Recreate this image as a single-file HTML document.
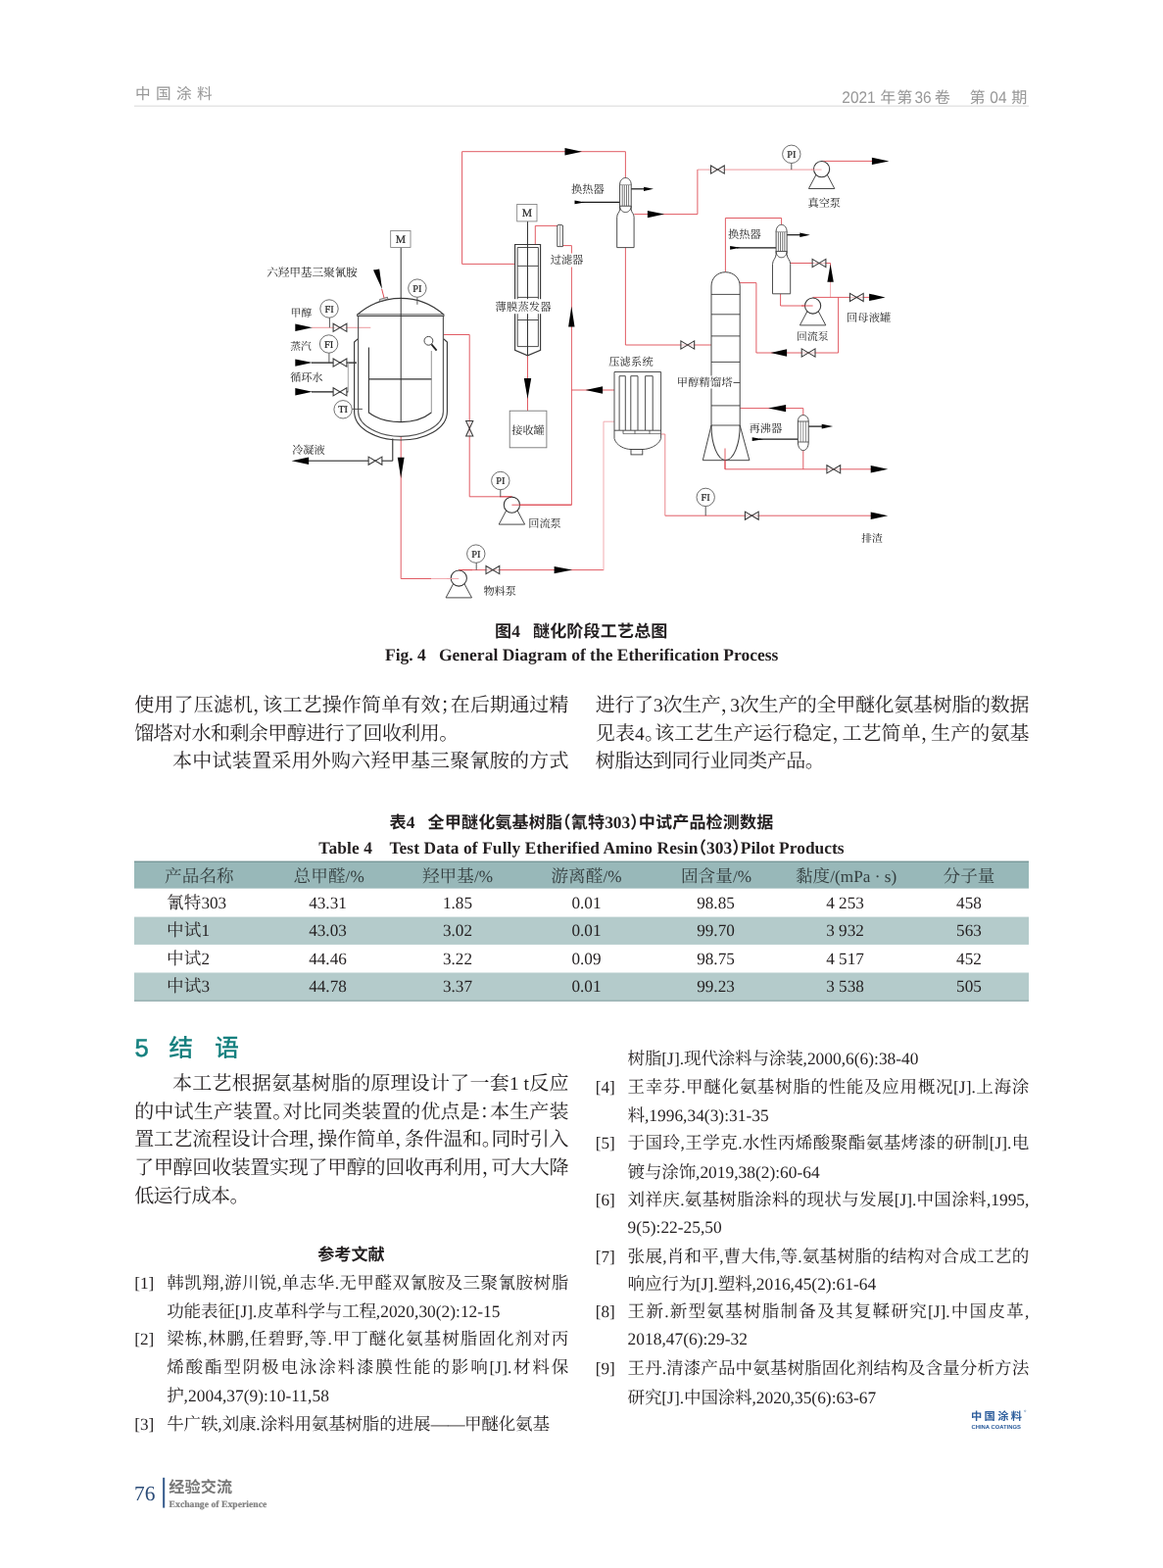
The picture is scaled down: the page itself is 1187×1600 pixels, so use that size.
<!DOCTYPE html>
<html lang="zh-CN"><head><meta charset="utf-8"><title>中国涂料 2021年第36卷 第04期 - 76</title>
<style>html,body{margin:0;padding:0;background:#fff}svg{display:block;will-change:transform}text{font-family:"Liberation Serif","Noto Serif CJK SC",serif;white-space:pre;text-rendering:geometricPrecision}text.sa{font-family:"Liberation Sans","Noto Sans CJK SC",sans-serif}</style></head>
<body>
<svg width="1187" height="1600" viewBox="0 0 1187 1600">
<g transform="translate(138,101.2) scale(0.0308)" fill="#979797"><text class="sa" font-size="500" x="0 682 1364 2045">中国涂料</text></g><rect x="137" y="107.7" width="913" height="0.9" fill="#d4d4d4"/><text transform="translate(859.3,105.2) scale(0.92,1)" font-size="16.8" class="sa" fill="#979797" textLength="37.37">2021</text><g transform="translate(898.2,105.2) scale(0.0326)" fill="#979797"><text class="sa" font-size="500" x="0 525">年第</text></g><text transform="translate(933.4,105.2) scale(0.92,1)" font-size="16.8" class="sa" fill="#979797" textLength="18.69">36</text><g transform="translate(953.8,105.2) scale(0.0326)" fill="#979797"><text class="sa" font-size="500" x="0">卷</text></g><g transform="translate(989.4,105.2) scale(0.0326)" fill="#979797"><text class="sa" font-size="500" x="0">第</text></g><text transform="translate(1010.3,105.2) scale(0.92,1)" font-size="16.8" class="sa" fill="#979797" textLength="18.69">04</text><g transform="translate(1032.2,105.2) scale(0.0326)" fill="#979797"><text class="sa" font-size="500" x="0">期</text></g><g fill="none" stroke-linecap="butt" stroke-linejoin="miter"><polyline points="525.6,269.4 471.6,269.4 471.6,154.7 638.4,154.7 638.4,182" stroke="#de4a52" stroke-width="0.9" /><polyline points="546.3,249.5 546.3,230.4 569,230.4" stroke="#de4a52" stroke-width="0.9" /><polyline points="574.3,250.6 583.4,250.6 583.4,515.2 522.4,515.2" stroke="#de4a52" stroke-width="0.9" /><polyline points="538.5,362.6 538.5,419.2" stroke="#de4a52" stroke-width="0.9" /><polyline points="318,334.3 378.3,334.3" stroke="#ea8d93" stroke-width="0.9" /><polyline points="452.4,341.5 479.2,341.5 479.2,506.8 522.4,506.8" stroke="#de4a52" stroke-width="0.9" /><polyline points="409.2,445 409.2,590.5 440,590.5" stroke="#de4a52" stroke-width="0.9" /><polyline points="440,590.5 468.3,590.5" stroke="#f0a2a8" stroke-width="0.9" /><polyline points="468.3,581.6 616,581.6" stroke="#de4a52" stroke-width="0.9" /><polyline points="616,582.2 616,430.2 627,430.2" stroke="#f0a2a8" stroke-width="0.9" /><polyline points="627,398 583.3,398" stroke="#de4a52" stroke-width="0.9" /><polyline points="674.6,443 678.8,443 678.8,526.2" stroke="#e8797f" stroke-width="0.9" /><polyline points="678.8,526.2 890,526.2" stroke="#de4a52" stroke-width="0.9" /><polyline points="647.3,218.6 711.9,218.6 711.9,173.1" stroke="#de4a52" stroke-width="0.9" /><polyline points="711.9,173.6 711.9,173.1 838.6,173.1" stroke="#ea8d93" stroke-width="0.9" /><polyline points="838.6,164.4 890,164.4" stroke="#de4a52" stroke-width="0.9" /><polyline points="638.4,252.2 638.4,352 726,352" stroke="#de4a52" stroke-width="0.9" /><polyline points="740.4,277.8 740.4,222.5 797.6,222.5 797.6,230" stroke="#de4a52" stroke-width="0.9" /><polyline points="806.6,268.5 847.6,268.5 847.6,288" stroke="#de4a52" stroke-width="0.9" /><polyline points="847.6,288 847.6,303.4" stroke="#f0a2a8" stroke-width="0.9" /><polyline points="796.6,299.8 796.6,312 829.6,312" stroke="#de4a52" stroke-width="0.9" /><polyline points="829.6,303.4 888,303.4" stroke="#de4a52" stroke-width="0.9" /><polyline points="855.6,303.4 855.6,360 771.9,360 771.9,288.6 754.8,288.6" stroke="#de4a52" stroke-width="0.9" /><polyline points="755.2,416.6 819.8,416.6 819.8,424" stroke="#de4a52" stroke-width="0.9" /><polyline points="740,457.5 740,478.8 890,478.8" stroke="#de4a52" stroke-width="0.9" /><polyline points="819.8,459.8 819.8,478.8" stroke="#de4a52" stroke-width="0.9" /><polyline points="318,370.1 364,370.1" stroke="#1a1a1a" stroke-width="1.25" /><polyline points="318,399.8 355.3,399.8" stroke="#1a1a1a" stroke-width="1.25" /><polyline points="355.3,399.8 355.3,370.1" stroke="#999" stroke-width="0.9" /><polyline points="400.8,447.5 400.8,470.2 314,470.2" stroke="#1a1a1a" stroke-width="1" /><polyline points="643.8,192.8 660,192.8" stroke="#1a1a1a" stroke-width="1.25" /><polyline points="633.2,206.4 594,206.4" stroke="#1a1a1a" stroke-width="1.25" /><polyline points="803,239.7 820,239.7" stroke="#1a1a1a" stroke-width="1.25" /><polyline points="792.2,252.8 752,252.8" stroke="#1a1a1a" stroke-width="1.25" /><polyline points="825.2,435.1 842,435.1" stroke="#1a1a1a" stroke-width="1.25" /><polyline points="814.4,448.2 775,448.2" stroke="#1a1a1a" stroke-width="1.25" /><path d="M365.6,345.5 L361.6,349 L361.6,420 C361.6,438 385,449 409.2,449 C433,449 456.4,438 456.4,420 L456.4,349 L452.4,345.5" stroke="#3a3a3a" stroke-width="1.15"/><path d="M365.6,322.3 L365.6,420 C365.6,435 388,445.3 409.2,445.3 C430,445.3 452.4,435 452.4,420 L452.4,322.3" stroke="#555" stroke-width="1.15"/><path d="M364.8,321 C378,309.5 394,304.3 409.2,304.3 C424,304.3 440,309.5 452.8,321" stroke="#3a3a3a" stroke-width="1.15"/><rect x="364.6" y="320.9" width="88.4" height="1.6" stroke="#3a3a3a" stroke-width="0.9" fill="#fff"/><polyline points="409.2,252.4 409.2,430.4" stroke="#333" stroke-width="1" /><path d="M376.4,354.4 L376.4,421 C385,427.5 398,430.6 409.2,430.6 C420,430.6 432,427.5 440.3,421" stroke="#333" stroke-width="1.1"/><polyline points="440.3,421 440.3,358" stroke="#888" stroke-width="0.9" /><polyline points="376.4,386.8 440.3,386.8" stroke="#333" stroke-width="1.2" /><circle cx="437.4" cy="347.8" r="4.4" stroke="#333" stroke-width="0.9" fill="#fff"/><line x1="440.4" y1="351.4" x2="445.6" y2="357.6" stroke="#222" stroke-width="1.8"/><polygon points="387.4,305.6 395.4,303.2 396,305 388,307.6" fill="#ddd" stroke="#444" stroke-width="0.7"/><polyline points="389.7,295 392.1,304.3" stroke="#de4a52" stroke-width="1" /><polygon points="381,275.6 387.2,274.4 390,295.2" fill="#000" stroke="none"/><rect x="398.7" y="235.5" width="20.3" height="16.9" fill="#fff" stroke="#777" stroke-width="0.8"/><text x="408.85" y="247.95" font-size="11.6" text-anchor="middle" fill="#222" stroke="#222" stroke-width="0.2">M</text><path d="M525.6,249.5 L551.6,249.5 L551.6,357.3 L538.5,362.8 L525.6,357.3 Z" stroke="#3a3a3a" stroke-width="1.15" fill="#fff"/><path d="M528.2,252.5 H549.4 V353.6 H528.2 Z M528.2,271.4 H549.4 M528.2,303.4 H549.4 M528.2,326.5 H549.4" stroke="#3a3a3a" stroke-width="0.9"/><polyline points="538.5,225.9 538.5,362.4" stroke="#333" stroke-width="1" /><rect x="527.7" y="208.4" width="20.3" height="17.5" fill="#fff" stroke="#777" stroke-width="0.8"/><text x="537.85" y="221.15" font-size="11.6" text-anchor="middle" fill="#222" stroke="#222" stroke-width="0.2">M</text><path d="M568.8,230 L571,229.2 L574.4,230 L574.4,251.6 L568.8,251.6 Z" stroke="#3a3a3a" stroke-width="0.9" fill="#fff"/><polyline points="571.6,229.6 571.6,251.4" stroke="#777" stroke-width="0.7" /><rect x="520.2" y="419.2" width="37.7" height="37.6" stroke="#777" stroke-width="0.9" fill="#fff"/><path d="M627,379.5 H674.6 V447.5 C672,455 662,458.5 655.8,458.5 H644 C638,458.5 629,455 627,447.5 Z" stroke="#3a3a3a" stroke-width="0.9" fill="#fff"/><path d="M632.1,439 V383.7 H638.3 V439" stroke="#3a3a3a" stroke-width="0.9"/><path d="M643.8,439 V383.7 H651 V439" stroke="#3a3a3a" stroke-width="0.9"/><path d="M658.6,439 V383.7 H666.2 V439" stroke="#3a3a3a" stroke-width="0.9"/><polyline points="627,439.2 674.6,439.2" stroke="#3a3a3a" stroke-width="0.9" /><polyline points="636,442.6 674.6,442.6" stroke="#666" stroke-width="0.8" /><polyline points="636,439.2 636,442.6" stroke="#3a3a3a" stroke-width="0.8" /><polyline points="648,439.2 648,442.6" stroke="#3a3a3a" stroke-width="0.8" /><polyline points="663,439.2 663,442.6" stroke="#3a3a3a" stroke-width="0.8" /><rect x="644" y="458.5" width="11.8" height="5.4" stroke="#3a3a3a" stroke-width="0.9" fill="#fff"/><path d="M632.6,210.2 L632.6,213.2 C632.6,217.2 629.7,217.5 629.7,221.5 L629.7,252.6 L647.1,252.6 L647.1,221.5 C647.1,217.5 644.2,217.2 644.2,213.2 L644.2,210.2" fill="#fff" stroke="#3a3a3a" stroke-width="0.9"/><path d="M632.6,210.2 C632.6,218.7 644.2,218.7 644.2,210.2" fill="none" stroke="#3a3a3a" stroke-width="0.9"/><rect x="632.6" y="188.6" width="11.6" height="21.6" fill="#fff" stroke="#3a3a3a" stroke-width="0.9"/><line x1="635.2" y1="188.6" x2="635.2" y2="210.2" stroke="#555" stroke-width="0.8"/><line x1="637.3" y1="188.6" x2="637.3" y2="210.2" stroke="#555" stroke-width="0.8"/><line x1="639.5" y1="188.6" x2="639.5" y2="210.2" stroke="#555" stroke-width="0.8"/><line x1="641.6" y1="188.6" x2="641.6" y2="210.2" stroke="#555" stroke-width="0.8"/><path d="M632.6,188.6 C632.6,179.1 644.2,179.1 644.2,188.6" fill="#fff" stroke="#3a3a3a" stroke-width="0.9"/><path d="M792.1,256.4 L792.1,259.4 C792.1,263.4 788.5,265.5 788.5,269.5 L788.5,299.8 L806.7,299.8 L806.7,269.5 C806.7,265.5 803.1,263.4 803.1,259.4 L803.1,256.4" fill="#fff" stroke="#3a3a3a" stroke-width="0.9"/><path d="M792.1,256.4 C792.1,264.9 803.1,264.9 803.1,256.4" fill="none" stroke="#3a3a3a" stroke-width="0.9"/><rect x="792.1" y="236.6" width="11" height="19.8" fill="#fff" stroke="#3a3a3a" stroke-width="0.9"/><line x1="794.4" y1="236.6" x2="794.4" y2="256.4" stroke="#555" stroke-width="0.8"/><line x1="796.5" y1="236.6" x2="796.5" y2="256.4" stroke="#555" stroke-width="0.8"/><line x1="798.7" y1="236.6" x2="798.7" y2="256.4" stroke="#555" stroke-width="0.8"/><line x1="800.8" y1="236.6" x2="800.8" y2="256.4" stroke="#555" stroke-width="0.8"/><path d="M792.1,236.6 C792.1,226.9 803.1,226.9 803.1,236.6" fill="#fff" stroke="#3a3a3a" stroke-width="0.9"/><path d="M717.3,469.7 L726,434 L726,292 C726,284 732,277.7 740.4,277.7 C749,277.7 755.2,284 755.2,292 L755.2,434 L764.9,469.7 Z" stroke="#444" stroke-width="1.0" fill="#fff"/><path d="M726,434 A14.6,35.5 0 0 0 755.2,434" stroke="#3a3a3a" stroke-width="1.05"/><polyline points="726,300.4 755.2,300.4" stroke="#3a3a3a" stroke-width="0.9" /><polyline points="726,320.8 755.2,320.8" stroke="#3a3a3a" stroke-width="0.9" /><polyline points="726,342.9 755.2,342.9" stroke="#3a3a3a" stroke-width="0.9" /><polyline points="726,369.4 755.2,369.4" stroke="#3a3a3a" stroke-width="0.9" /><polyline points="726,390.5 755.2,390.5" stroke="#3a3a3a" stroke-width="0.9" /><polyline points="726,413.9 755.2,413.9" stroke="#3a3a3a" stroke-width="0.9" /><polyline points="726,434 755.2,434" stroke="#3a3a3a" stroke-width="0.9" /><path d="M814.4,430 C814.4,421.5 825.2,421.5 825.2,430 L825.2,451 C825.2,462.5 814.4,462.5 814.4,451 Z" stroke="#3a3a3a" stroke-width="0.9" fill="#fff"/><polyline points="814.4,430 825.2,430" stroke="#3a3a3a" stroke-width="0.8" /><polyline points="814.4,451 825.2,451" stroke="#3a3a3a" stroke-width="0.8" /><polyline points="817.1,430 817.1,451" stroke="#666" stroke-width="0.7" /><polyline points="819.8,430 819.8,451" stroke="#666" stroke-width="0.7" /><polyline points="822.5,430 822.5,451" stroke="#666" stroke-width="0.7" /><polyline points="740,457.5 740,478.8" stroke="#de4a52" stroke-width="0.9" /><polygon points="522.4,510.2 509.2,535.1 535.6,535.1" fill="#fff" stroke="#333" stroke-width="0.9"/><circle cx="522.4" cy="515.2" r="8.1" fill="#fff" stroke="#333" stroke-width="1.05"/><polyline points="522.4,515.2 583.4,515.2" stroke="#de4a52" stroke-width="0.9" /><polyline points="510,506.8 522.4,506.8" stroke="#de4a52" stroke-width="0.9" /><polygon points="468.3,585 455.1,609.9 481.5,609.9" fill="#fff" stroke="#333" stroke-width="0.9"/><circle cx="468.3" cy="590" r="8.1" fill="#fff" stroke="#333" stroke-width="1.05"/><polyline points="456,590.5 468.3,590.5" stroke="#f0a2a8" stroke-width="0.9" /><polygon points="838.6,167.6 825.4,192.5 851.8,192.5" fill="#fff" stroke="#333" stroke-width="0.9"/><circle cx="838.6" cy="172.6" r="8.1" fill="#fff" stroke="#333" stroke-width="1.05"/><polyline points="828,173.1 838.6,173.1" stroke="#f0a2a8" stroke-width="0.9" /><polygon points="829.6,307 816.4,331.9 842.8,331.9" fill="#fff" stroke="#333" stroke-width="0.9"/><circle cx="829.6" cy="312" r="8.1" fill="#fff" stroke="#333" stroke-width="1.05"/><polyline points="818,312 829.6,312" stroke="#de4a52" stroke-width="0.9" /><polyline points="468.3,581.6 482,581.6" stroke="#de4a52" stroke-width="0.9" /><polygon points="340.1,366 340.1,374.2 353.9,366 353.9,374.2" fill="#fff" fill-opacity="1" stroke="#383838" stroke-width="1.05" stroke-linejoin="miter"/><polygon points="340.1,395.7 340.1,403.9 353.9,395.7 353.9,403.9" fill="#fff" fill-opacity="1" stroke="#383838" stroke-width="1.05" stroke-linejoin="miter"/><polygon points="376.1,466.1 376.1,474.3 389.9,466.1 389.9,474.3" fill="#fff" fill-opacity="1" stroke="#383838" stroke-width="1.05" stroke-linejoin="miter"/><polygon points="340.1,330.2 340.1,338.4 353.9,330.2 353.9,338.4" fill="#fff" fill-opacity="0.62" stroke="#383838" stroke-width="1.05" stroke-linejoin="miter"/><polygon points="496,577.5 496,585.7 509.8,577.5 509.8,585.7" fill="#fff" fill-opacity="0.62" stroke="#383838" stroke-width="1.05" stroke-linejoin="miter"/><polygon points="725.5,169 725.5,177.2 739.3,169 739.3,177.2" fill="#fff" fill-opacity="0.62" stroke="#383838" stroke-width="1.05" stroke-linejoin="miter"/><polygon points="694.9,347.9 694.9,356.1 708.7,347.9 708.7,356.1" fill="#fff" fill-opacity="0.62" stroke="#383838" stroke-width="1.05" stroke-linejoin="miter"/><polygon points="829.1,264.4 829.1,272.6 842.9,264.4 842.9,272.6" fill="#fff" fill-opacity="0.62" stroke="#383838" stroke-width="1.05" stroke-linejoin="miter"/><polygon points="867.4,299.3 867.4,307.5 881.2,299.3 881.2,307.5" fill="#fff" fill-opacity="0.62" stroke="#383838" stroke-width="1.05" stroke-linejoin="miter"/><polygon points="818.2,355.9 818.2,364.1 832,355.9 832,364.1" fill="#fff" fill-opacity="0.62" stroke="#383838" stroke-width="1.05" stroke-linejoin="miter"/><polygon points="843.9,474.7 843.9,482.9 857.7,474.7 857.7,482.9" fill="#fff" fill-opacity="0.62" stroke="#383838" stroke-width="1.05" stroke-linejoin="miter"/><polygon points="760.4,522.1 760.4,530.3 774.2,522.1 774.2,530.3" fill="#fff" fill-opacity="0.62" stroke="#383838" stroke-width="1.05" stroke-linejoin="miter"/><polygon points="475.6,429.4 482.8,429.4 475.6,445 482.8,445" fill="#fff" fill-opacity="0.62" stroke="#383838" stroke-width="1.05" stroke-linejoin="miter"/><polyline points="425.9,303.4 425.9,310.8" stroke="#444" stroke-width="0.9" /><polyline points="336.4,324 336.4,334.3" stroke="#444" stroke-width="0.9" /><polyline points="335.9,360 335.9,370.1" stroke="#444" stroke-width="0.9" /><polyline points="359.3,417.4 369.9,417.4" stroke="#444" stroke-width="0.9" /><polyline points="510.8,499.5 510.8,506.8" stroke="#444" stroke-width="0.9" /><polyline points="486.2,573.8 486.2,581.6" stroke="#444" stroke-width="0.9" /><polyline points="807.8,166.4 807.8,173.1" stroke="#444" stroke-width="0.9" /><polyline points="720.2,516.5 720.2,526.2" stroke="#444" stroke-width="0.9" /><circle cx="425.9" cy="294.1" r="9.2" fill="#fff" stroke="#4a4a4a" stroke-width="0.8"/><text x="425.9" y="297.6" font-size="10.4" text-anchor="middle" fill="#222" stroke="#222" stroke-width="0.22">PI</text><circle cx="336" cy="315" r="9.2" fill="#fff" stroke="#4a4a4a" stroke-width="0.8"/><text x="336" y="318.5" font-size="10.4" text-anchor="middle" fill="#222" stroke="#222" stroke-width="0.22">FI</text><circle cx="335.6" cy="351" r="9.2" fill="#fff" stroke="#4a4a4a" stroke-width="0.8"/><text x="335.6" y="354.5" font-size="10.4" text-anchor="middle" fill="#222" stroke="#222" stroke-width="0.22">FI</text><circle cx="350.1" cy="417.8" r="9.2" fill="#fff" stroke="#4a4a4a" stroke-width="0.8"/><text x="350.1" y="421.3" font-size="10.4" text-anchor="middle" fill="#222" stroke="#222" stroke-width="0.22">TI</text><circle cx="510.8" cy="490.5" r="9.2" fill="#fff" stroke="#4a4a4a" stroke-width="0.8"/><text x="510.8" y="494" font-size="10.4" text-anchor="middle" fill="#222" stroke="#222" stroke-width="0.22">PI</text><circle cx="485.8" cy="565.1" r="9.2" fill="#fff" stroke="#4a4a4a" stroke-width="0.8"/><text x="485.8" y="568.6" font-size="10.4" text-anchor="middle" fill="#222" stroke="#222" stroke-width="0.22">PI</text><circle cx="807.8" cy="157.3" r="9.2" fill="#fff" stroke="#4a4a4a" stroke-width="0.8"/><text x="807.8" y="160.8" font-size="10.4" text-anchor="middle" fill="#222" stroke="#222" stroke-width="0.22">PI</text><circle cx="720.2" cy="507.4" r="9.2" fill="#fff" stroke="#4a4a4a" stroke-width="0.8"/><text x="720.2" y="510.9" font-size="10.4" text-anchor="middle" fill="#222" stroke="#222" stroke-width="0.22">FI</text><polygon points="594,154.7 576.5,151 576.5,158.4" fill="#000" stroke="none"/><polygon points="318.8,334.3 301.3,330.6 301.3,338" fill="#000" stroke="none"/><polygon points="318.8,370.1 301.3,366.4 301.3,373.8" fill="#000" stroke="none"/><polygon points="318.8,399.8 301.3,396.1 301.3,403.5" fill="#000" stroke="none"/><polygon points="297.6,470.2 315.1,466.5 315.1,473.9" fill="#000" stroke="none"/><polygon points="409.2,487.9 405.8,466.7 412.6,466.7" fill="#000" stroke="none"/><polygon points="583.3,312.6 580.1,333.6 586.5,333.6" fill="#000" stroke="none"/><polygon points="538.5,407 534.8,386 542.2,386" fill="#000" stroke="none"/><polygon points="597.6,398 615.1,394.3 615.1,401.7" fill="#000" stroke="none"/><polygon points="597,206.4 586.5,204.5 586.5,208.3" fill="#000" stroke="none"/><polygon points="667,192.8 657,190.7 657,194.9" fill="#000" stroke="none"/><polygon points="678.1,218.6 660.9,215 660.9,222.2" fill="#000" stroke="none"/><polygon points="907.4,164.4 889.9,160.7 889.9,168.1" fill="#000" stroke="none"/><polygon points="755.6,252.8 745.1,250.9 745.1,254.7" fill="#000" stroke="none"/><polygon points="826.8,239.7 816.3,237.5 816.3,241.9" fill="#000" stroke="none"/><polygon points="847.6,269.4 844.4,287.8 850.8,287.8" fill="#000" stroke="none"/><polygon points="903.6,303.4 887.1,299.7 887.1,307.1" fill="#000" stroke="none"/><polygon points="786.5,360 803.1,356.3 803.1,363.7" fill="#000" stroke="none"/><polygon points="784.1,416.6 802.1,412.9 802.1,420.3" fill="#000" stroke="none"/><polygon points="779.2,448.2 767.7,446.3 767.7,450.1" fill="#000" stroke="none"/><polygon points="850.1,435.1 838.7,432.8 838.7,437.4" fill="#000" stroke="none"/><polygon points="906.2,478.8 888.7,475.1 888.7,482.5" fill="#000" stroke="none"/><polygon points="906.2,526.2 888.7,522.5 888.7,529.9" fill="#000" stroke="none"/><polygon points="584.1,581.6 565.6,577.9 565.6,585.3" fill="#000" stroke="none"/></g><g transform="translate(272.2,282.4) scale(0.0231)" fill="#222"><text font-size="500" x="0 500 1000 1500 2000 2500 3000 3500">六羟甲基三聚氰胺</text></g><g transform="translate(296.6,323.2) scale(0.0216)" fill="#222"><text font-size="500" x="0 500">甲醇</text></g><g transform="translate(296.2,357.1) scale(0.0216)" fill="#222"><text font-size="500" x="0 500">蒸汽</text></g><g transform="translate(296.2,389.2) scale(0.022)" fill="#222"><text font-size="500" x="0 500 1000">循环水</text></g><g transform="translate(298.2,462.6) scale(0.0222)" fill="#222"><text font-size="500" x="0 500 1000">冷凝液</text></g><rect x="524" y="305.2" width="30" height="15" fill="#fff"/><g transform="translate(505.6,316.6) scale(0.0228)" fill="#222"><text font-size="500" x="0 500 1000 1500 2000">薄膜蒸发器</text></g><rect x="580" y="258.5" width="8" height="14" fill="#fff"/><g transform="translate(561.8,269.3) scale(0.0222)" fill="#222"><text font-size="500" x="0 500 1000">过滤器</text></g><g transform="translate(583,197) scale(0.0224)" fill="#222"><text font-size="500" x="0 500 1000">换热器</text></g><g transform="translate(824.6,211.3) scale(0.0222)" fill="#222"><text font-size="500" x="0 500 1000">真空泵</text></g><g transform="translate(743,243.2) scale(0.0224)" fill="#222"><text font-size="500" x="0 500 1000">换热器</text></g><g transform="translate(864,327.8) scale(0.0227)" fill="#222"><text font-size="500" x="0 500 1000 1500">回母液罐</text></g><g transform="translate(813,347.4) scale(0.0218)" fill="#222"><text font-size="500" x="0 500 1000">回流泵</text></g><g transform="translate(621.2,372.6) scale(0.0228)" fill="#222"><text font-size="500" x="0 500 1000 1500">压滤系统</text></g><rect x="724" y="383.5" width="24.5" height="13" fill="#fff"/><g transform="translate(690.8,393.8) scale(0.0228)" fill="#222"><text font-size="500" x="0 500 1000 1500 2000">甲醇精馏塔</text></g><g transform="translate(764.6,440.8) scale(0.0224)" fill="#222"><text font-size="500" x="0 500 1000">再沸器</text></g><g transform="translate(522.2,442.6) scale(0.0224)" fill="#222"><text font-size="500" x="0 500 1000">接收罐</text></g><g transform="translate(539.2,538.4) scale(0.0224)" fill="#222"><text font-size="500" x="0 500 1000">回流泵</text></g><g transform="translate(493.4,607.2) scale(0.0224)" fill="#222"><text font-size="500" x="0 500 1000">物料泵</text></g><g transform="translate(879.2,553.4) scale(0.0216)" fill="#222"><text font-size="500" x="0 500">排渣</text></g><g transform="translate(0,649.8) scale(0.0344)" fill="#231f20"><text class="sa" font-weight="bold" font-size="500" x="14681 15813 16313 16813 17313 17813 18313 18813 19313">图醚化阶段工艺总图</text></g><text x="522.23" y="649.8" font-size="17.4" font-weight="bold" fill="#231f20" textLength="21.75">4   </text><text x="392.98" y="674.2" font-size="17.5" font-weight="bold" fill="#231f20" textLength="401.43">Fig. 4   General Diagram of the Etherification Process</text><g transform="translate(137.2,725.6) scale(0.0398)" fill="#231f20"><text font-size="500" x="0 506 1012 1519 2025 2531 3037 3293 3799 4306 4812 5318 5824 6330 6836 7343 7849 8105 8611 9117 9623 10130 10636">使用了压滤机，该工艺操作简单有效；在后期通过精</text></g><g transform="translate(137.2,754.5) scale(0.0398)" fill="#231f20"><text font-size="500" x="0 488 977 1465 1954 2442 2931 3419 3908 4396 4884 5373 5861 6350 6838 7327 7815">馏塔对水和剩余甲醇进行了回收利用。</text></g><g transform="translate(176.1,783.4) scale(0.0398)" fill="#231f20"><text font-size="500" x="0 508 1017 1525 2033 2542 3050 3558 4067 4575 5083 5592 6100 6608 7117 7625 8133 8642 9150 9658">本中试装置采用外购六羟甲基三聚氰胺的方式</text></g><g transform="translate(607.8,725.6) scale(0.0398)" fill="#231f20"><text font-size="500" x="0 495 990 1723 2218 2713 3208 3692 4187 4682 5176 5671 6166 6661 7156 7651 8146 8641 9136 9631 10126 10621">进行了次生产，次生产的全甲醚化氨基树脂的数据</text></g><text x="666.89" y="725.6" font-size="19.4" fill="#231f20">3</text><text x="745.23" y="725.6" font-size="19.4" fill="#231f20">3</text><g transform="translate(607.8,754.5) scale(0.0398)" fill="#231f20"><text font-size="500" x="0 506 1260 1516 2021 2527 3032 3538 4043 4549 5054 5560 6065 6321 6826 7332 7838 8343 8599 9104 9610 10115 10621">见表。该工艺生产运行稳定，工艺简单，生产的氨基</text></g><text x="648.04" y="754.5" font-size="19.4" fill="#231f20">4</text><g transform="translate(607.8,783.4) scale(0.0398)" fill="#231f20"><text font-size="500" x="0 488 977 1465 1954 2442 2931 3419 3908 4396 4884 5373">树脂达到同行业同类产品。</text></g><g transform="translate(0,845.2) scale(0.0344)" fill="#231f20"><text class="sa" font-weight="bold" font-size="500" x="11557 12690 13190 13690 14190 14690 15190 15690 16190 16440 16940 17440 18698 18948 19448 19948 20448 20948 21448 21948 22448">表全甲醚化氨基树脂（氰特）中试产品检测数据</text></g><text x="414.78" y="845.2" font-size="17.4" font-weight="bold" fill="#231f20" textLength="21.75">4   </text><text x="617.13" y="845.2" font-size="17.4" font-weight="bold" fill="#231f20" textLength="26.1">303</text><g transform="translate(0,871) scale(0.0344)" fill="#231f20"><text class="sa" font-weight="bold" font-size="500" x="20462 21721">（）</text></g><text x="325.36" y="871" font-size="17.4" font-weight="bold" fill="#231f20" textLength="387.14">Table 4    Test Data of Fully Etherified Amino Resin</text><text x="721.1" y="871" font-size="17.4" font-weight="bold" fill="#231f20" textLength="26.1">303</text><text x="755.8" y="871" font-size="17.4" font-weight="bold" fill="#231f20" textLength="105.84">Pilot Products</text><rect x="137" y="879" width="913" height="27.6" fill="#98b8b9"/><rect x="137" y="935.6" width="913" height="28.3" fill="#b4cbcb"/><rect x="137" y="992.5" width="913" height="28.6" fill="#b4cbcb"/><rect x="137" y="878.6" width="913" height="1.2" fill="#6f8f91"/><rect x="137" y="1020.6" width="913" height="1.2" fill="#8aa5a6"/><g transform="translate(168,899.8) scale(0.0354)" fill="#333d3e"><text font-size="500" x="0 500 1000 1500">产品名称</text></g><g transform="translate(0,899.8) scale(0.0354)" fill="#333d3e"><text font-size="500" x="8460 8960 9460">总甲醛</text></g><text x="352.6" y="899.8" font-size="17.2" fill="#333d3e" textLength="19.11">/%</text><g transform="translate(0,899.8) scale(0.0354)" fill="#333d3e"><text font-size="500" x="12172 12672 13172">羟甲基</text></g><text x="484" y="899.8" font-size="17.2" fill="#333d3e" textLength="19.11">/%</text><g transform="translate(0,899.8) scale(0.0354)" fill="#333d3e"><text font-size="500" x="15887 16387 16887">游离醛</text></g><text x="615.5" y="899.8" font-size="17.2" fill="#333d3e" textLength="19.11">/%</text><g transform="translate(0,899.8) scale(0.0354)" fill="#333d3e"><text font-size="500" x="19630 20130 20630">固含量</text></g><text x="748" y="899.8" font-size="17.2" fill="#333d3e" textLength="19.11">/%</text><g transform="translate(0,899.8) scale(0.0354)" fill="#333d3e"><text font-size="500" x="22935 23435">黏度</text></g><text x="847.28" y="899.8" font-size="17.2" fill="#333d3e" textLength="67.83">/(mPa · s)</text><g transform="translate(0,899.8) scale(0.0354)" fill="#333d3e"><text font-size="500" x="27188 27688 28188">分子量</text></g><g transform="translate(170,926.9) scale(0.0354)" fill="#231f20"><text font-size="500" x="0 500">氰特</text></g><text x="205.4" y="926.9" font-size="17.2" fill="#231f20" textLength="25.8">303</text><text x="315.15" y="926.9" font-size="17.2" fill="#231f20" textLength="38.7">43.31</text><text x="451.95" y="926.9" font-size="17.2" fill="#231f20" textLength="30.1">1.85</text><text x="583.45" y="926.9" font-size="17.2" fill="#231f20" textLength="30.1">0.01</text><text x="711.15" y="926.9" font-size="17.2" fill="#231f20" textLength="38.7">98.85</text><text x="843.15" y="926.9" font-size="17.2" fill="#231f20" textLength="38.7">4 253</text><text x="976.1" y="926.9" font-size="17.2" fill="#231f20" textLength="25.8">458</text><g transform="translate(170,955.35) scale(0.0354)" fill="#231f20"><text font-size="500" x="0 500">中试</text></g><text x="205.4" y="955.35" font-size="17.2" fill="#231f20">1</text><text x="315.15" y="955.35" font-size="17.2" fill="#231f20" textLength="38.7">43.03</text><text x="451.95" y="955.35" font-size="17.2" fill="#231f20" textLength="30.1">3.02</text><text x="583.45" y="955.35" font-size="17.2" fill="#231f20" textLength="30.1">0.01</text><text x="711.15" y="955.35" font-size="17.2" fill="#231f20" textLength="38.7">99.70</text><text x="843.15" y="955.35" font-size="17.2" fill="#231f20" textLength="38.7">3 932</text><text x="976.1" y="955.35" font-size="17.2" fill="#231f20" textLength="25.8">563</text><g transform="translate(170,983.8) scale(0.0354)" fill="#231f20"><text font-size="500" x="0 500">中试</text></g><text x="205.4" y="983.8" font-size="17.2" fill="#231f20">2</text><text x="315.15" y="983.8" font-size="17.2" fill="#231f20" textLength="38.7">44.46</text><text x="451.95" y="983.8" font-size="17.2" fill="#231f20" textLength="30.1">3.22</text><text x="583.45" y="983.8" font-size="17.2" fill="#231f20" textLength="30.1">0.09</text><text x="711.15" y="983.8" font-size="17.2" fill="#231f20" textLength="38.7">98.75</text><text x="843.15" y="983.8" font-size="17.2" fill="#231f20" textLength="38.7">4 517</text><text x="976.1" y="983.8" font-size="17.2" fill="#231f20" textLength="25.8">452</text><g transform="translate(170,1012.25) scale(0.0354)" fill="#231f20"><text font-size="500" x="0 500">中试</text></g><text x="205.4" y="1012.25" font-size="17.2" fill="#231f20">3</text><text x="315.15" y="1012.25" font-size="17.2" fill="#231f20" textLength="38.7">44.78</text><text x="451.95" y="1012.25" font-size="17.2" fill="#231f20" textLength="30.1">3.37</text><text x="583.45" y="1012.25" font-size="17.2" fill="#231f20" textLength="30.1">0.01</text><text x="711.15" y="1012.25" font-size="17.2" fill="#231f20" textLength="38.7">99.23</text><text x="843.15" y="1012.25" font-size="17.2" fill="#231f20" textLength="38.7">3 538</text><text x="976.1" y="1012.25" font-size="17.2" fill="#231f20" textLength="25.8">505</text><text x="137.4" y="1078.4" font-size="25.6" class="sa" fill="#15807f" stroke="#15807f" stroke-width="0.5">5</text><g transform="translate(172.2,1077.9) scale(0.0496)" fill="#15807f"><text class="sa" font-weight="500" font-size="500" x="0">结</text></g><g transform="translate(219,1077.9) scale(0.0496)" fill="#15807f"><text class="sa" font-weight="500" font-size="500" x="0">语</text></g><g transform="translate(176.1,1111.6) scale(0.0398)" fill="#231f20"><text font-size="500" x="0 508 1017 1525 2033 2541 3050 3558 4066 4575 5083 5591 6099 6608 7116 7624 8132 9150 9658">本工艺根据氨基树脂的原理设计了一套反应</text></g><text x="520" y="1111.6" font-size="19.4" fill="#231f20" textLength="19.94">1 t</text><g transform="translate(137.2,1140.5) scale(0.0398)" fill="#231f20"><text font-size="500" x="0 506 1012 1519 2025 2531 3037 3543 3799 4306 4812 5318 5824 6330 6836 7343 7849 8355 8861 9117 9623 10130 10636">的中试生产装置。对比同类装置的优点是：本生产装</text></g><g transform="translate(137.2,1169.4) scale(0.0398)" fill="#231f20"><text font-size="500" x="0 495 990 1485 1980 2475 2970 3465 3960 4455 4700 5195 5690 6185 6680 6925 7420 7916 8411 8906 9151 9646 10141 10636">置工艺流程设计合理，操作简单，条件温和。同时引入</text></g><g transform="translate(137.2,1198.3) scale(0.0398)" fill="#231f20"><text font-size="500" x="0 495 990 1484 1979 2474 2969 3464 3958 4453 4948 5443 5938 6432 6927 7422 7917 8412 8906 9151 9646 10141 10636">了甲醇回收装置实现了甲醇的回收再利用，可大大降</text></g><g transform="translate(137.2,1227.2) scale(0.0398)" fill="#231f20"><text font-size="500" x="0 488 977 1465 1954 2442">低运行成本。</text></g><g transform="translate(0,1285.8) scale(0.0342)" fill="#231f20"><text class="sa" font-weight="bold" font-size="500" x="9480 9980 10480 10980">参考文献</text></g><text x="137.2" y="1314.6" font-size="17.2" fill="#231f20">[1]</text><g transform="translate(170.2,1314.6) scale(0.0355)" fill="#231f20"><text font-size="500" x="0 508 1016 1654 2162 2669 3308 3815 4323 4961 5469 5977 6485 6992 7500 8008 8516 9024 9532 10039 10547 11055">韩凯翔游川锐单志华无甲醛双氰胺及三聚氰胺树脂</text></g><text x="224.28" y="1314.6" font-size="17.4" fill="#231f20">,</text><text x="282.99" y="1314.6" font-size="17.4" fill="#231f20">,</text><text x="341.7" y="1314.6" font-size="17.4" fill="#231f20">.</text><g transform="translate(170.2,1343.5) scale(0.0355)" fill="#231f20"><text font-size="500" x="0 489 978 1467 2596 3085 3574 4063 4552 5041 5530">功能表征皮革科学与工程</text></g><text x="239.64" y="1343.5" font-size="17.4" fill="#231f20" textLength="22.71">[J].</text><text x="383.87" y="1343.5" font-size="17.4" fill="#231f20" textLength="126.62">,2020,30(2):12-15</text><text x="137.2" y="1372.4" font-size="17.2" fill="#231f20">[2]</text><g transform="translate(170.2,1372.4) scale(0.0355)" fill="#231f20"><text font-size="500" x="0 524 1193 1717 2386 2910 3433 4103 4773 5296 5820 6343 6867 7390 7914 8437 8961 9484 10008 10531 11055">梁栋林鹏任碧野等甲丁醚化氨基树脂固化剂对丙</text></g><text x="207.37" y="1372.4" font-size="17.4" fill="#231f20">,</text><text x="249.73" y="1372.4" font-size="17.4" fill="#231f20">,</text><text x="310.67" y="1372.4" font-size="17.4" fill="#231f20">,</text><text x="334.44" y="1372.4" font-size="17.4" fill="#231f20">.</text><g transform="translate(170.2,1401.3) scale(0.0355)" fill="#231f20"><text font-size="500" x="0 546 1092 1637 2183 2729 3275 3820 4366 4912 5458 6003 6549 7095 7641 8186 8732 9963 10509 11055">烯酸酯型阴极电泳涂料漆膜性能的影响材料保</text></g><text x="499.57" y="1401.3" font-size="17.4" fill="#231f20" textLength="22.71">[J].</text><g transform="translate(170.2,1430.2) scale(0.0355)" fill="#231f20"><text font-size="500" x="0">护</text></g><text x="187.56" y="1430.2" font-size="17.4" fill="#231f20" textLength="148.37">,2004,37(9):10-11,58</text><text x="137.2" y="1459.1" font-size="17.2" fill="#231f20">[3]</text><g transform="translate(170.2,1459.1) scale(0.0355)" fill="#231f20"><text font-size="500" x="0 489 978 1590 2079 2690 3179 3668 4157 4646 5135 5624 6113 6602 7091 7590 8079 8558 9047 9536 10025 10514">牛广轶刘康涂料用氨基树脂的进展——甲醚化氨基</text></g><text x="222.28" y="1459.1" font-size="17.4" fill="#231f20">,</text><text x="261.35" y="1459.1" font-size="17.4" fill="#231f20">.</text><g transform="translate(640.6,1085.8) scale(0.0355)" fill="#231f20"><text font-size="500" x="0 489 1618 2107 2596 3085 3574 4063 4552">树脂现代涂料与涂装</text></g><text x="675.32" y="1085.8" font-size="17.4" fill="#231f20" textLength="22.71">[J].</text><text x="819.55" y="1085.8" font-size="17.4" fill="#231f20" textLength="117.92">,2000,6(6):38-40</text><text x="607.8" y="1114.9" font-size="17.2" fill="#231f20">[4]</text><g transform="translate(640.6,1114.9) scale(0.0355)" fill="#231f20"><text font-size="500" x="0 513 1026 1674 2186 2699 3212 3725 4238 4750 5263 5776 6289 6802 7314 7827 8340 8853 10018 10531 11044">王幸芬甲醚化氨基树脂的性能及应用概况上海涂</text></g><text x="695.21" y="1114.9" font-size="17.4" fill="#231f20">.</text><text x="973.08" y="1114.9" font-size="17.4" fill="#231f20" textLength="22.71">[J].</text><g transform="translate(640.6,1143.8) scale(0.0355)" fill="#231f20"><text font-size="500" x="0">料</text></g><text x="657.96" y="1143.8" font-size="17.4" fill="#231f20" textLength="126.62">,1996,34(3):31-35</text><text x="607.8" y="1171.9" font-size="17.2" fill="#231f20">[5]</text><g transform="translate(640.6,1171.9) scale(0.0355)" fill="#231f20"><text font-size="500" x="0 507 1014 1650 2157 2664 3300 3807 4314 4821 5328 5835 6342 6849 7356 7862 8369 8876 9383 9890 11044">于国玲王学克水性丙烯酸聚酯氨基烤漆的研制电</text></g><text x="694.59" y="1171.9" font-size="17.4" fill="#231f20">,</text><text x="753.17" y="1171.9" font-size="17.4" fill="#231f20">.</text><text x="1009.69" y="1171.9" font-size="17.4" fill="#231f20" textLength="22.71">[J].</text><g transform="translate(640.6,1201.5) scale(0.0355)" fill="#231f20"><text font-size="500" x="0 489 978 1467">镀与涂饰</text></g><text x="710.04" y="1201.5" font-size="17.4" fill="#231f20" textLength="126.62">,2019,38(2):60-64</text><text x="607.8" y="1229.5" font-size="17.2" fill="#231f20">[6]</text><g transform="translate(640.6,1229.5) scale(0.0355)" fill="#231f20"><text font-size="500" x="0 503 1005 1633 2136 2639 3141 3644 4147 4649 5152 5655 6157 6660 7163 8308 8810 9313 9816">刘祥庆氨基树脂涂料的现状与发展中国涂料</text></g><text x="694.13" y="1229.5" font-size="17.4" fill="#231f20">.</text><text x="912.72" y="1229.5" font-size="17.4" fill="#231f20" textLength="22.71">[J].</text><text x="1006.9" y="1229.5" font-size="17.4" fill="#231f20" textLength="43.5">,1995,</text><text x="640.6" y="1258.4" font-size="17.4" fill="#231f20" textLength="96.17">9(5):22-25,50</text><text x="607.8" y="1287.6" font-size="17.2" fill="#231f20">[7]</text><g transform="translate(640.6,1287.6) scale(0.0355)" fill="#231f20"><text font-size="500" x="0 502 1129 1631 2133 2760 3262 3764 4391 5018 5520 6022 6524 7027 7529 8031 8533 9035 9537 10039 10542 11044">张展肖和平曹大伟等氨基树脂的结构对合成工艺的</text></g><text x="676.25" y="1287.6" font-size="17.4" fill="#231f20">,</text><text x="734.16" y="1287.6" font-size="17.4" fill="#231f20">,</text><text x="792.06" y="1287.6" font-size="17.4" fill="#231f20">,</text><text x="814.31" y="1287.6" font-size="17.4" fill="#231f20">.</text><g transform="translate(640.6,1316.4) scale(0.0355)" fill="#231f20"><text font-size="500" x="0 489 978 1467 2596 3085">响应行为塑料</text></g><text x="710.04" y="1316.4" font-size="17.4" fill="#231f20" textLength="22.71">[J].</text><text x="767.47" y="1316.4" font-size="17.4" fill="#231f20" textLength="126.62">,2016,45(2):61-64</text><text x="607.8" y="1344.2" font-size="17.2" fill="#231f20">[8]</text><g transform="translate(640.6,1344.2) scale(0.0355)" fill="#231f20"><text font-size="500" x="0 530 1212 1742 2272 2802 3332 3862 4392 4922 5452 5982 6512 7042 7572 8102 9301 9831 10361 10891">王新新型氨基树脂制备及其复鞣研究中国皮革</text></g><text x="678.23" y="1344.2" font-size="17.4" fill="#231f20">.</text><text x="947.02" y="1344.2" font-size="17.4" fill="#231f20" textLength="22.71">[J].</text><text x="1046.05" y="1344.2" font-size="17.4" fill="#231f20">,</text><text x="640.6" y="1372.4" font-size="17.4" fill="#231f20" textLength="122.27">2018,47(6):29-32</text><text x="607.8" y="1402" font-size="17.2" fill="#231f20">[9]</text><g transform="translate(640.6,1402) scale(0.0355)" fill="#231f20"><text font-size="500" x="0 497 1112 1609 2105 2602 3099 3595 4092 4588 5085 5581 6078 6575 7071 7568 8064 8561 9057 9554 10051 10547 11044">王丹清漆产品中氨基树脂固化剂结构及含量分析方法</text></g><text x="675.86" y="1402" font-size="17.4" fill="#231f20">.</text><g transform="translate(640.6,1431.8) scale(0.0355)" fill="#231f20"><text font-size="500" x="0 489 1618 2107 2596 3085">研究中国涂料</text></g><text x="675.32" y="1431.8" font-size="17.4" fill="#231f20" textLength="22.71">[J].</text><text x="767.47" y="1431.8" font-size="17.4" fill="#231f20" textLength="126.62">,2020,35(6):63-67</text><g transform="translate(991,1449) scale(0.022)" fill="#2c5d9c"><text class="sa" font-weight="bold" font-size="500" x="0 618 1236 1855">中国涂料</text></g><text x="991.4" y="1457.5" font-size="5.9" font-weight="bold" class="sa" fill="#2c5d9c" textLength="50.6" lengthAdjust="spacingAndGlyphs">CHINA COATINGS</text><circle cx="1046.2" cy="1439.8" r="0.75" fill="none" stroke="#2c5d9c" stroke-width="0.4"/><text x="137" y="1531.4" font-size="21.4" fill="#2c4c78">76</text><rect x="166.1" y="1507.8" width="2.1" height="30.8" fill="#3b5f8f"/><g transform="translate(172.2,1522.8) scale(0.0326)" fill="#777"><text class="sa" font-weight="bold" font-size="500" x="0 500 1000 1500">经验交流</text></g><text x="172.6" y="1537.6" font-size="9.7" font-weight="bold" fill="#808080" stroke="#808080" stroke-width="0.2" textLength="99.7">Exchange of Experience</text>
</svg>
</body></html>
